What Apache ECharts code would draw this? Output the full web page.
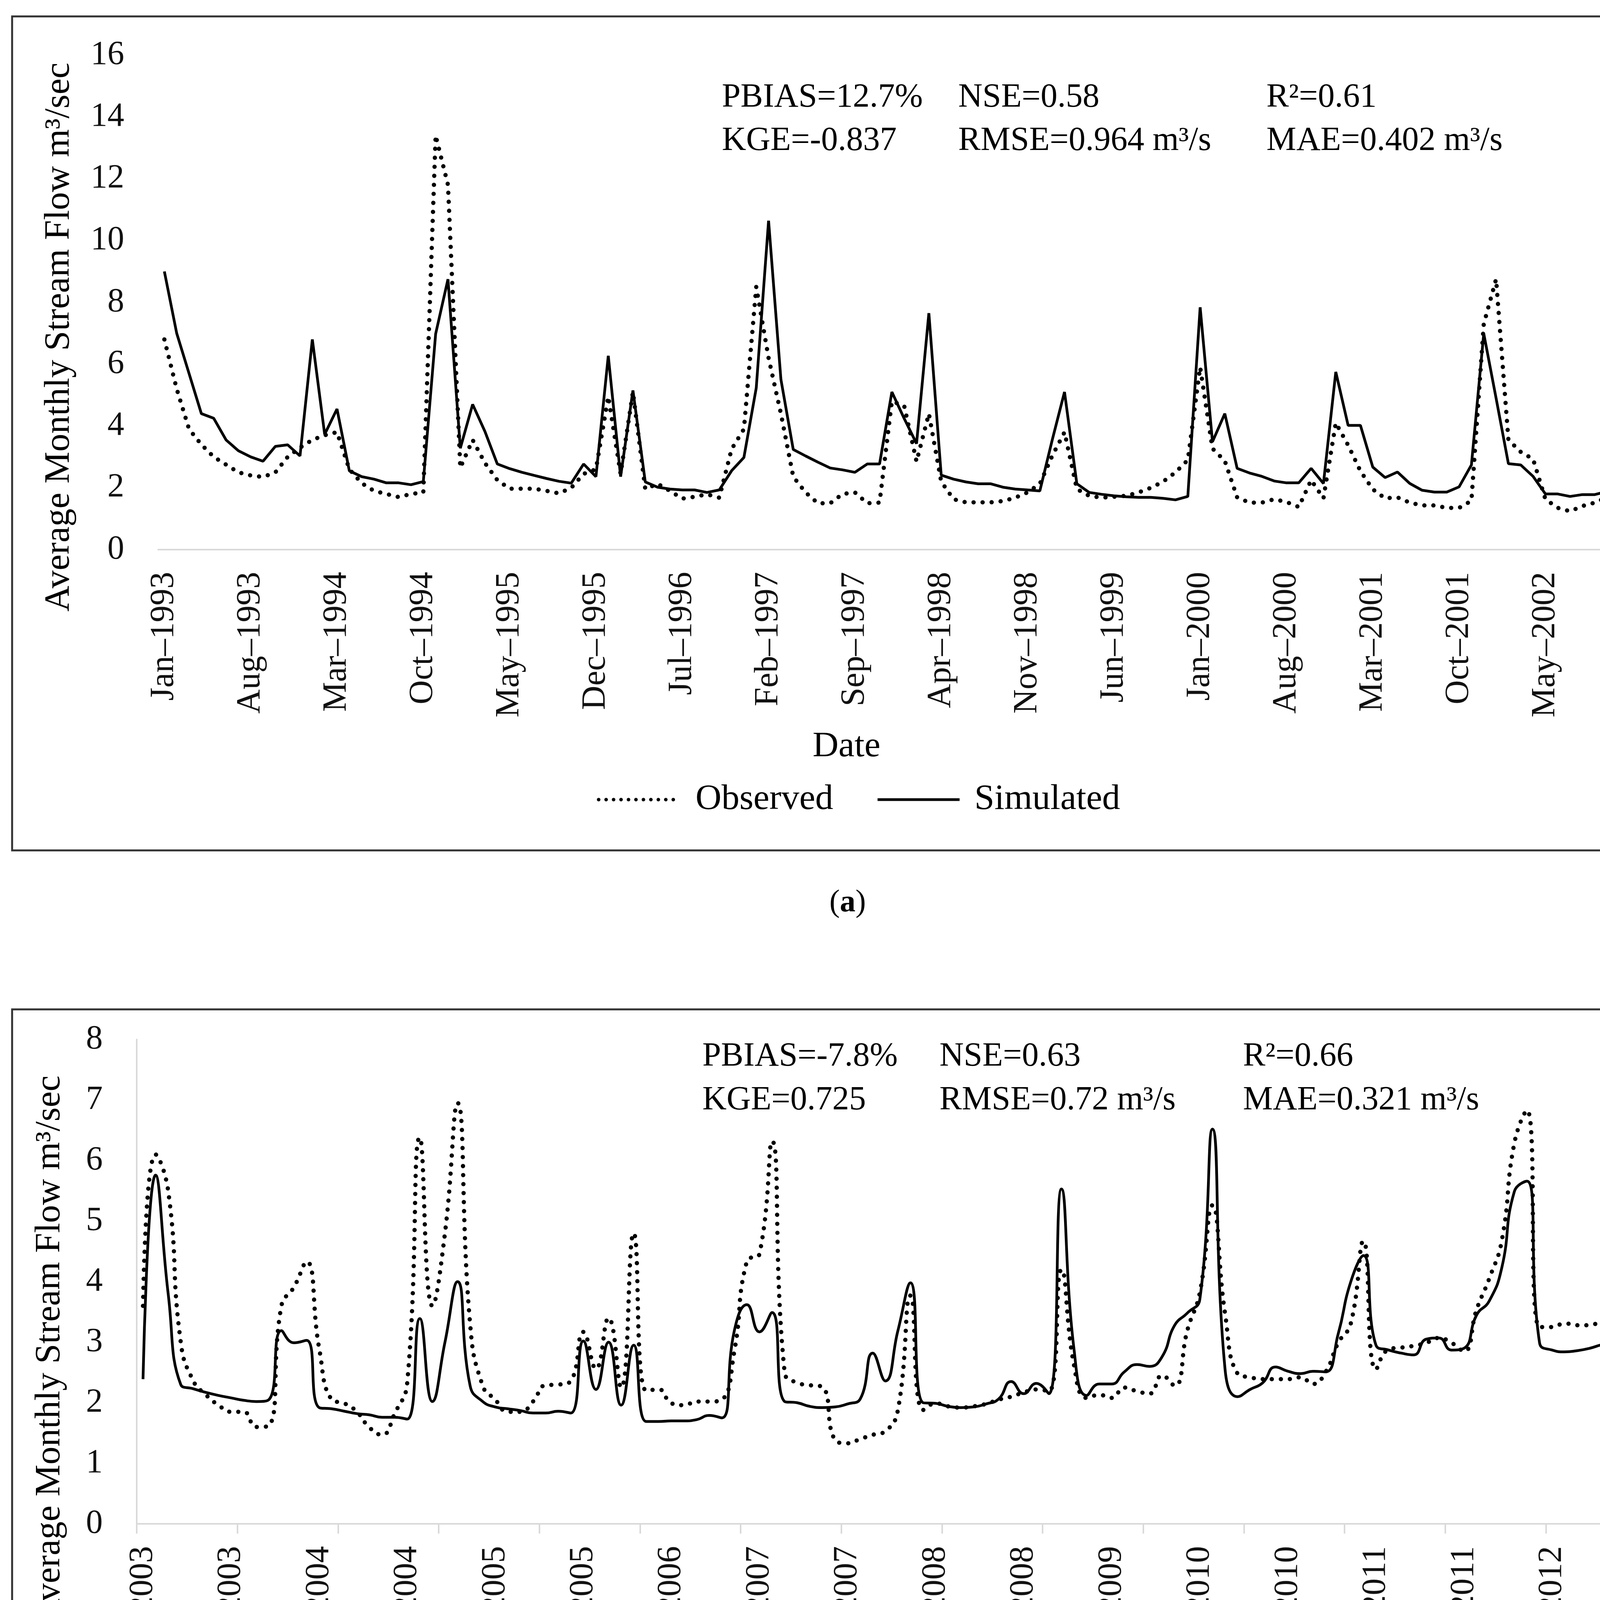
<!DOCTYPE html>
<html>
<head>
<meta charset="utf-8">
<script src="https://cdn.jsdelivr.net/npm/echarts/dist/echarts.min.js"></script>
<style>
html,body{margin:0;padding:0;background:#fff;}
#chart{width:4359px;height:4883px;}
</style>
</head>
<body>
<div id="chart"></div>
<script>
// ---------- data ----------
const MONTHS = ['Jan','Feb','Mar','Apr','May','Jun','Jul','Aug','Sep','Oct','Nov','Dec'];
const START_YEAR_A = 1993;
const START_YEAR_B = 2003;
const N_YEARS = 10;

const observedA = [
  6.8, 5.2, 3.9, 3.4, 3.0, 2.75, 2.5, 2.4, 2.35, 2.5, 3.0, 3.3,
  3.55, 3.7, 3.8, 2.6, 2.15, 1.9, 1.8, 1.7, 1.8, 1.85, 13.4, 11.8,
  2.65, 3.55, 2.8, 2.25, 1.97, 1.97, 1.97, 1.9, 1.82, 2.0, 2.45, 2.6,
  4.95, 2.45, 5.1, 1.96, 2.13, 1.9, 1.65, 1.71, 1.79, 1.68, 3.25, 3.9,
  8.5, 6.2, 4.4, 2.36, 1.85, 1.5, 1.5, 1.8, 1.85, 1.5, 1.52, 4.8,
  4.65, 2.85, 4.4, 2.2, 1.63, 1.53, 1.53, 1.53, 1.57, 1.68, 1.85, 2.13,
  3.03, 3.8, 1.96, 1.74, 1.68, 1.71, 1.74, 1.85, 2.0, 2.2, 2.5, 2.9,
  5.9, 3.27, 2.87, 1.69, 1.52, 1.52, 1.63, 1.54, 1.38, 2.25, 1.66, 4.1,
  3.38, 2.54, 1.95, 1.66, 1.69, 1.52, 1.43, 1.43, 1.35, 1.35, 1.58, 7.3,
  8.75, 3.55, 3.16, 2.93, 1.63, 1.35, 1.24, 1.41, 1.52, 1.69, 1.86, 8.76
];
const simulatedA = [
  9.0, 7.0, 5.7, 4.4, 4.25, 3.55, 3.2, 3.0, 2.86, 3.34, 3.39, 3.03,
  6.8, 3.73, 4.55, 2.55, 2.36, 2.28, 2.16, 2.16, 2.1, 2.2, 6.98, 8.75,
  3.28, 4.7, 3.82, 2.77, 2.62, 2.5, 2.4, 2.3, 2.21, 2.15, 2.77, 2.36,
  6.27, 2.36, 5.15, 2.19, 2.02, 1.96, 1.93, 1.93, 1.85, 1.93, 2.55, 2.98,
  5.23, 10.64, 5.51, 3.24, 3.03, 2.83, 2.64, 2.58, 2.5, 2.77, 2.77, 5.1,
  4.24, 3.43, 7.65, 2.41, 2.28, 2.19, 2.13, 2.13, 2.02, 1.96, 1.93, 1.9,
  3.54, 5.1, 2.13, 1.85, 1.79, 1.74, 1.71, 1.69, 1.69, 1.66, 1.61, 1.72,
  7.84, 3.49, 4.4, 2.63, 2.48, 2.37, 2.22, 2.16, 2.16, 2.63, 2.14, 5.75,
  4.02, 4.02, 2.67, 2.33, 2.51, 2.14, 1.92, 1.86, 1.86, 2.03, 2.74, 6.99,
  4.9, 2.78, 2.74, 2.37, 1.8, 1.8, 1.72, 1.78, 1.78, 1.88, 1.97, 4.36
];
const observedB = [
  3.6, 6.1, 5.5, 3.0, 2.36, 2.13, 1.96, 1.85, 1.85, 1.6, 1.62, 3.6,
  3.91, 4.33, 2.9, 2.05, 1.99, 1.85, 1.59, 1.47, 1.82, 2.33, 6.38, 3.6,
  4.8, 6.95, 3.3, 2.28, 2.05, 1.85, 1.85, 2.02, 2.29, 2.3, 2.36, 3.17,
  2.56, 3.4, 2.25, 4.8, 2.2, 2.22, 1.99, 1.96, 2.02, 2.02, 2.05, 2.85,
  4.34, 4.46, 6.32, 2.5, 2.33, 2.29, 2.26, 1.39, 1.33, 1.4, 1.47, 1.53,
  1.88, 3.77, 1.88, 1.99, 1.94, 1.92, 1.94, 1.98, 2.05, 2.1, 2.17, 2.22,
  2.19, 4.2, 2.62, 2.08, 2.13, 2.08, 2.25, 2.19, 2.15, 2.45, 2.28, 3.19,
  3.82, 5.26, 3.48, 2.48, 2.42, 2.39, 2.39, 2.39, 2.42, 2.31, 2.51, 2.99,
  3.31, 4.67, 2.55, 2.88, 2.91, 2.94, 2.99, 3.07, 2.99, 2.85, 3.54, 4.05,
  4.68, 6.29, 6.83, 3.25, 3.25, 3.31, 3.28, 3.28, 3.34, 3.31, 3.37, 5.11
];
const simulatedB = [
  2.39, 5.76, 3.8, 2.3, 2.23, 2.17, 2.12, 2.08, 2.04, 2.02, 2.05, 3.19,
  2.99, 3.03, 1.92, 1.9, 1.86, 1.82, 1.8, 1.76, 1.76, 1.73, 3.39, 2.02,
  3.0, 4.0, 2.28, 2.02, 1.93, 1.9, 1.87, 1.83, 1.83, 1.86, 1.83, 3.02,
  2.22, 3.0, 1.96, 2.95, 1.69, 1.69, 1.7, 1.7, 1.72, 1.79, 1.75, 3.19,
  3.62, 3.17, 3.49, 2.02, 2.0, 1.94, 1.92, 1.93, 1.98, 2.06, 2.82, 2.36,
  3.19, 3.98, 2.0, 1.99, 1.94, 1.92, 1.93, 1.98, 2.06, 2.35, 2.15, 2.32,
  2.15, 5.53, 2.88, 2.12, 2.31, 2.31, 2.51, 2.63, 2.6, 2.76, 3.28, 3.48,
  3.71, 6.52, 2.56, 2.1, 2.22, 2.33, 2.59, 2.52, 2.48, 2.52, 2.51, 3.14,
  4.0, 4.43, 2.95, 2.87, 2.82, 2.79, 3.05, 3.07, 2.87, 2.9, 3.45, 3.68,
  4.23, 5.49, 5.66, 2.99, 2.87, 2.84, 2.86, 2.9, 2.96, 2.99, 3.28, 3.71
];

const statsA = [
  ['PBIAS=12.7%', 'NSE=0.58', 'R\u00b2=0.61'],
  ['KGE=-0.837', 'RMSE=0.964 m\u00b3/s', 'MAE=0.402 m\u00b3/s']
];
const statsB = [
  ['PBIAS=-7.8%', 'NSE=0.63', 'R\u00b2=0.66'],
  ['KGE=0.725', 'RMSE=0.72 m\u00b3/s', 'MAE=0.321 m\u00b3/s']
];
const Y_TITLE = 'Average Monthly Stream Flow m\u00b3/sec';
const X_TITLE = 'Date';
const SERIES_NAMES = ['Observed', 'Simulated'];

// ---------- build ----------
function buildCategories(startYear) {
  const out = [];
  for (let y = startYear; y < startYear + N_YEARS; y++) {
    for (const m of MONTHS) out.push(m + '\u2013' + y);
  }
  return out;
}
const catsA = buildCategories(START_YEAR_A);
const catsB = buildCategories(START_YEAR_B);

const FONT = '"Liberation Serif", "Times New Roman", serif';
const TXT = '#111';
const AXIS_GRAY = '#d9d9d9';

const obsStyle = { color: '#000', width: 11, type: [0.1, 23], cap: 'round' };
const simStyle = { color: '#000', width: 7, type: 'solid' };

function xAxisCfg(gridIndex, cats, showTicks) {
  return {
    gridIndex, type: 'category', data: cats, boundaryGap: true,
    axisLine: { show: true, lineStyle: { color: AXIS_GRAY, width: 4 } },
    axisTick: showTicks ? { show: true, interval: 7, length: 25, lineStyle: { color: AXIS_GRAY, width: 4 } } : { show: false },
    axisLabel: { interval: 6, rotate: 90, margin: 57, fontFamily: FONT, fontSize: 86, color: TXT, hideOverlap: false },
    splitLine: { show: false }
  };
}
function yAxisCfg(gridIndex, max, interval, showLine) {
  return {
    gridIndex, type: 'value', min: 0, max, interval,
    axisLine: { show: showLine, lineStyle: { color: AXIS_GRAY, width: 4 } },
    axisTick: { show: false },
    splitLine: { show: false },
    axisLabel: { margin: 87, fontFamily: FONT, fontSize: 86, color: TXT }
  };
}
function lineSeries(name, idx, data, style, smooth) {
  return {
    name, type: 'line', xAxisIndex: idx, yAxisIndex: idx, data,
    smooth, symbol: 'none', showSymbol: false, lineStyle: style,
    itemStyle: { color: '#000' },
    emphasis: { disabled: true }, silent: true
  };
}
function text(x, y, str, size, opts) {
  return Object.assign({
    type: 'text', x, y, silent: true,
    style: { text: str, fontFamily: FONT, fontSize: size, fill: '#000', align: 'left', verticalAlign: 'middle' }
  }, opts || {});
}
function statTexts(stats, cols, baselines, size) {
  const out = [];
  stats.forEach((row, r) => row.forEach((s, c) => {
    out.push(text(cols[c], baselines[r] - size * 0.33, s, size));
  }));
  return out;
}
function legendCfg(centerY) {
  return {
    left: 1523, top: centerY - 55, orient: 'horizontal',
    itemWidth: 210, itemHeight: 14, itemGap: 110,
    selectedMode: false,
    data: [
      { name: SERIES_NAMES[0], itemStyle: { opacity: 0 }, lineStyle: { color: '#000', width: 9, type: [0.1, 19], cap: 'round', opacity: 1 } },
      { name: SERIES_NAMES[1], itemStyle: { opacity: 0 }, lineStyle: { color: '#000', width: 7, type: 'solid', opacity: 1 } }
    ],
    textStyle: { fontFamily: FONT, fontSize: 92, color: '#000', padding: [0, 0, 0, 33], lineHeight: 110 }
  };
}

const graphics = [
  { type: 'rect', shape: { x: 31, y: 42, width: 4296, height: 2135 }, style: { fill: 'none', stroke: '#333', lineWidth: 5 }, silent: true },
  { type: 'rect', shape: { x: 31, y: 2584, width: 4296, height: 2147 }, style: { fill: 'none', stroke: '#333', lineWidth: 5 }, silent: true },
  text(152, 863, Y_TITLE, 92, { rotation: Math.PI / 2, style: { text: Y_TITLE, fontFamily: FONT, fontSize: 92, fill: '#000', align: 'center', verticalAlign: 'middle' } }),
  text(128, 3456, Y_TITLE, 92, { rotation: Math.PI / 2, style: { text: Y_TITLE, fontFamily: FONT, fontSize: 92, fill: '#000', align: 'center', verticalAlign: 'middle' } }),
  text(2167, 1912, X_TITLE, 92, { style: { text: X_TITLE, fontFamily: FONT, fontSize: 92, fill: '#000', align: 'center', verticalAlign: 'middle' } }),
  text(2218, 4463, X_TITLE, 92, { style: { text: X_TITLE, fontFamily: FONT, fontSize: 92, fill: '#000', align: 'center', verticalAlign: 'middle' } }),
  { type: 'text', x: 2170, y: 2312, silent: true, style: { text: '{p|(}{b|a}{p|)}', align: 'center', verticalAlign: 'middle',
      rich: { p: { fontFamily: FONT, fontSize: 80, fill: '#000', color: '#000' }, b: { fontFamily: FONT, fontSize: 80, fontWeight: 'bold', fill: '#000', color: '#000' } } } },
  { type: 'text', x: 2175, y: 4825, silent: true, style: { text: '{p|(}{b|b}{p|)}', align: 'center', verticalAlign: 'middle',
      rich: { p: { fontFamily: FONT, fontSize: 80, fill: '#000', color: '#000' }, b: { fontFamily: FONT, fontSize: 80, fontWeight: 'bold', fill: '#000', color: '#000' } } } }
].concat(
  statTexts(statsA, [1848, 2453, 3242], [279, 390], 86),
  statTexts(statsB, [1798, 2405, 3182], [2734, 2846], 86)
);

const option = {
  backgroundColor: '#fff',
  animation: false,
  color: ['#000', '#000'],
  textStyle: { fontFamily: FONT },
  grid: [
    { left: 405, right: 4359 - 4193, top: 141, height: 1266, outerBoundsMode: 'none', containLabel: false },
    { left: 350, right: 4359 - 4215, top: 2661, height: 1240, outerBoundsMode: 'none', containLabel: false }
  ],
  xAxis: [xAxisCfg(0, catsA, false), xAxisCfg(1, catsB, true)],
  yAxis: [yAxisCfg(0, 16, 2, false), yAxisCfg(1, 8, 1, true)],
  legend: [legendCfg(2042), legendCfg(4598)],
  series: [
    lineSeries(SERIES_NAMES[0], 0, observedA, obsStyle, false),
    lineSeries(SERIES_NAMES[1], 0, simulatedA, simStyle, false),
    lineSeries(SERIES_NAMES[0], 1, observedB, obsStyle, true),
    lineSeries(SERIES_NAMES[1], 1, simulatedB, simStyle, true)
  ],
  graphic: graphics
};

const chart = echarts.init(document.getElementById('chart'), null, { renderer: 'canvas' });
chart.setOption(option);
</script>
</body>
</html>
